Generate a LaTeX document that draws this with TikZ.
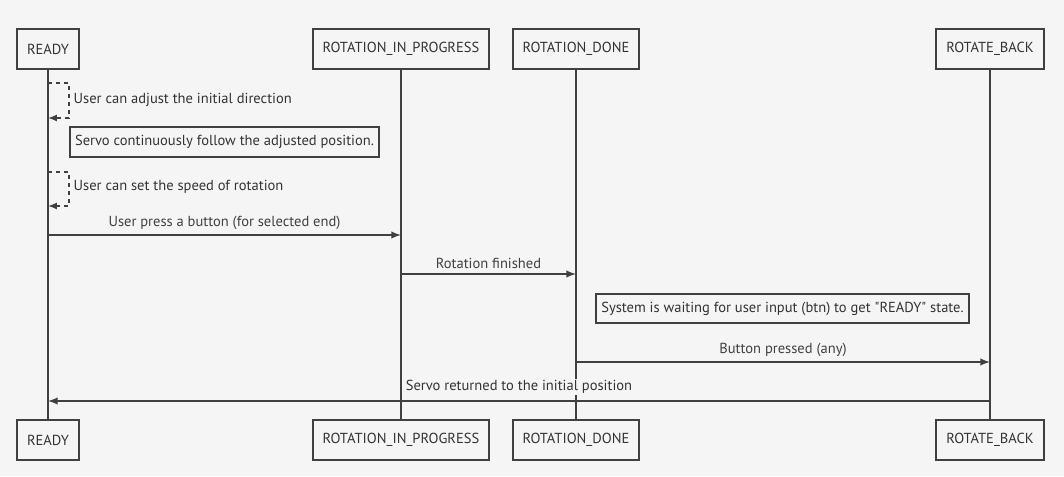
\documentclass[tikz,border=0pt]{standalone}
\usepackage{fontspec}
\setmainfont{PT Sans}
\usetikzlibrary{arrows}
\definecolor{bg}{HTML}{F5F5F5}
\definecolor{ln}{HTML}{404040}
\definecolor{txt}{HTML}{333333}

\begin{document}
\begin{tikzpicture}[x=0.75pt,y=-0.75pt,
  font=\fontsize{10.9}{13}\selectfont,text=txt,
  actor/.style={draw=ln,line width=1.5pt,fill=bg,minimum height=30pt,inner xsep=7.5pt},
  lifeline/.style={ln,line width=1.5pt},
  msg/.style={ln,line width=1.5pt,-latex},
  selfmsg/.style={ln,line width=1.3pt,dashed,-latex},
  note/.style={draw=ln,line width=1.5pt,fill=bg,inner xsep=4pt,minimum height=22pt}]
\fill[bg] (0,0) rectangle (1064,476);
\useasboundingbox (0,0) rectangle (1064,476);

% participants, top and bottom
\node[actor] (readyT) at (48,49) {READY};
\node[actor] (rinprogT) at (401,49) {ROTATION\_IN\_PROGRESS};
\node[actor] (rdoneT) at (576,49) {ROTATION\_DONE};
\node[actor] (rbackT) at (990,49) {ROTATE\_BACK};
\node[actor] (readyB) at (48,440) {READY};
\node[actor] (rinprogB) at (401,440) {ROTATION\_IN\_PROGRESS};
\node[actor] (rdoneB) at (576,440) {ROTATION\_DONE};
\node[actor] (rbackB) at (990,440) {ROTATE\_BACK};

% lifelines
\foreach \p in {ready,rinprog,rdone,rback} {
  \draw[lifeline] (\p T) -- (\p B);
  }

% self messages on READY
\coordinate (selfAin) at (48,83);
\coordinate (selfAout) at (48,118);
\draw[selfmsg] (selfAin) -- ++(21,0) |- (selfAout);
\node[anchor=west] (selfAlbl) at (69,100) {User can adjust the initial direction};
\node[note] (noteA) at (224.5,142) {Servo continuously follow the adjusted position.};
\coordinate (selfBin) at (48,172);
\coordinate (selfBout) at (48,206);
\draw[selfmsg] (selfBin) -- ++(21,0) |- (selfBout);
\node[anchor=west] (selfBlbl) at (69,187) {User can set the speed of rotation};

% messages
\coordinate (pressS) at (48,235);
\coordinate (pressE) at (401,235);
\draw[msg] (pressS) -- (pressE) node[midway,above] {User press a button (for selected end)};
\coordinate (finS) at (401,274);
\coordinate (finE) at (576,274);
\draw[msg] (finS) -- (finE) node[midway,above] {Rotation finished};
\node[note] (noteB) at (782.5,308.5) {System is waiting for user input (btn) to get \textquotedbl READY\textquotedbl{} state.};
\coordinate (btnS) at (576,362);
\coordinate (btnE) at (990,362);
\draw[msg] (btnS) -- (btnE) node[midway,above] {Button pressed (any)};
\coordinate (backS) at (990,401);
\coordinate (backE) at (48,401);
\draw[msg] (backS) -- (backE);
\node[fill=bg,inner ysep=1pt,inner xsep=2pt] (backlbl) at (519,387) {Servo returned to the initial position};
\end{tikzpicture}
\end{document}
